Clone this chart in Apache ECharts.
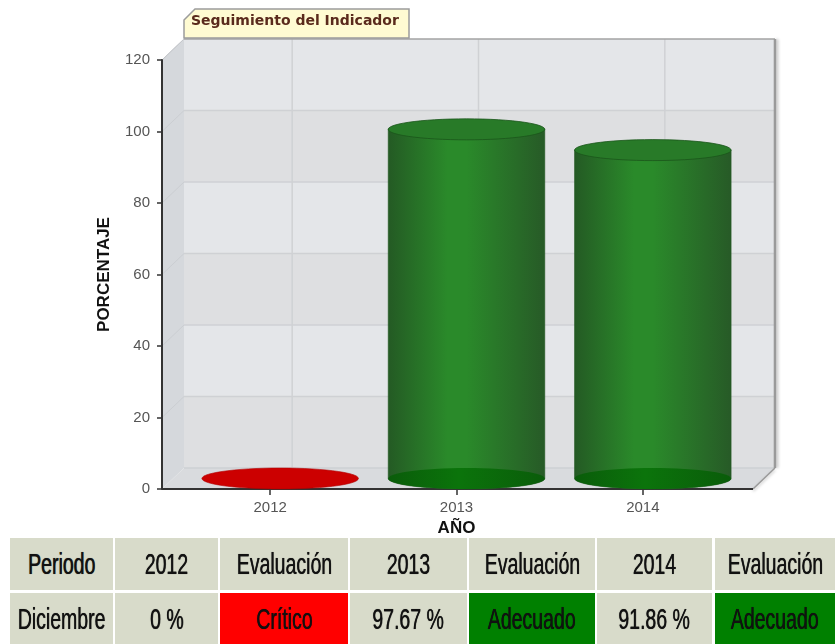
<!DOCTYPE html>
<html>
<head>
<meta charset="utf-8">
<script src="https://cdn.jsdelivr.net/npm/echarts@6/dist/echarts.min.js"></script>
<style>
  html, body { margin: 0; padding: 0; background: #fff; }
  #chart { position: absolute; left: 0; top: 0; width: 835px; height: 644px; }
  .cell { position: absolute; display: flex; align-items: center; justify-content: center;
          font-family: "Liberation Sans", Arial, sans-serif; font-size: 30px; color: #111; overflow: hidden; }
  .cell span { display: inline-block; transform: scaleX(0.65); white-space: nowrap;
               text-shadow: 0 0 1px rgba(0,0,0,0.6), 0.6px 0 0 rgba(0,0,0,0.6); }
</style>
</head>
<body>
<div id="chart"></div>
<div id="tabla"></div>
<script>
// datos del indicador
const anios = ['2012', '2013', '2014'];
const valores = [0, 97.67, 91.86];
const evaluaciones = ['Crítico', 'Adecuado', 'Adecuado'];
const periodo = 'Diciembre';
const ticksY = [0, 20, 40, 60, 80, 100, 120];

const coloresEval = { 'Crítico': '#ff0000', 'Adecuado': '#008000' };

// profundidad del efecto 3D
const DX = 22, DY = -21;

function elipse(cx, cy, rx, ry, n) {
    const pts = [];
    for (let i = 0; i < n; i++) {
        const a = i / n * Math.PI * 2;
        pts.push([cx + rx * Math.cos(a), cy + ry * Math.sin(a)]);
    }
    return pts;
}

const renderPared = (params, api) => {
    const cs = params.coordSys;
    const L = cs.x - 15, R = cs.x + cs.width + 17, T = cs.y, B = cs.y + cs.height;
    const hijos = [];
    // pared lateral
    hijos.push({ type: 'polygon', shape: { points: [[L, T], [L + DX, T + DY], [L + DX, B + DY], [L, B]] },
        style: { fill: '#d5d8dc' } });
    // piso
    hijos.push({ type: 'polygon', shape: { points: [[L, B], [L + DX, B + DY], [R + DX, B + DY], [R, B]] },
        style: { fill: '#d9dbde' } });
    // pared del fondo en bandas
    for (let i = 0; i < ticksY.length - 1; i++) {
        const y0 = api.coord([0, ticksY[i]])[1] + DY;
        const y1 = api.coord([0, ticksY[i + 1]])[1] + DY;
        hijos.push({ type: 'rect', shape: { x: L + DX, y: y1, width: R - L, height: y0 - y1 },
            style: { fill: i % 2 === 0 ? '#dedfe1' : '#e4e6e9' } });
    }
    // lineas de division
    ticksY.forEach((v, i) => {
        const y = api.coord([0, v])[1];
        if (i > 0 && i < ticksY.length - 1) {
            hijos.push({ type: 'line', shape: { x1: L + DX, y1: y + DY, x2: R + DX, y2: y + DY },
                style: { stroke: '#cfd1d4', lineWidth: 1.5 } });
        }
        if (i > 0) {
            hijos.push({ type: 'line', shape: { x1: L, y1: y, x2: L + DX, y2: y + DY },
                style: { stroke: '#cbced2', lineWidth: 1 } });
        }
    });
    hijos.push({ type: 'line', shape: { x1: L + DX, y1: B + DY, x2: R + DX, y2: B + DY },
        style: { stroke: '#cdd0d3', lineWidth: 1.5 } });
    anios.forEach((a, i) => {
        const x = api.coord([i, 0])[0] + DX;
        hijos.push({ type: 'line', shape: { x1: x, y1: T + DY, x2: x, y2: B + DY },
            style: { stroke: '#cfd1d4', lineWidth: 1.5 } });
    });
    // bordes
    hijos.push({ type: 'line', shape: { x1: L + DX, y1: T + DY, x2: R + DX, y2: T + DY },
        style: { stroke: '#a3a3a3', lineWidth: 1.5 } });
    hijos.push({ type: 'line', shape: { x1: R + DX, y1: T + DY, x2: R + DX, y2: B + DY },
        style: { stroke: '#9a9a9a', lineWidth: 2.5, shadowBlur: 3, shadowColor: 'rgba(0,0,0,0.25)', shadowOffsetX: 2 } });
    hijos.push({ type: 'line', shape: { x1: R + DX, y1: B + DY, x2: R, y2: B },
        style: { stroke: '#9a9a9a', lineWidth: 1.5, shadowBlur: 3, shadowColor: 'rgba(0,0,0,0.25)', shadowOffsetY: 2 } });
    hijos.push({ type: 'line', shape: { x1: L, y1: T, x2: L + DX, y2: T + DY },
        style: { stroke: '#c4c6ca', lineWidth: 1 } });
    hijos.push({ type: 'line', shape: { x1: L, y1: B, x2: R, y2: B },
        style: { stroke: '#333', lineWidth: 2 } });
    return { type: 'group', children: hijos };
};

const renderCilindro = (params, api) => {
    const idx = api.value(0);
    const val = api.value(1);
    const color = coloresEval[evaluaciones[idx]];
    const base = api.coord([idx, 0]);
    const tope = api.coord([idx, val]);
    const rx = api.size([1, 0])[0] * 0.42;
    const ry = 10.5;
    const cx = base[0] + DX / 2 - 1;
    const yb = base[1] + DY / 2;
    const yt = tope[1] + DY / 2;
    const hijos = [];
    if (yb - yt > 0.5) {
        const cuerpo = [[cx - rx, yt]];
        for (let i = 0; i <= 40; i++) {
            const a = Math.PI - i / 40 * Math.PI;
            cuerpo.push([cx + rx * Math.cos(a), yb + ry * Math.sin(a)]);
        }
        cuerpo.push([cx + rx, yt]);
        hijos.push({ type: 'polygon', shape: { points: cuerpo },
            style: { fill: new echarts.graphic.LinearGradient(0, 0, 1, 0, [
                { offset: 0, color: '#245a24' }, { offset: 0.38, color: '#2a8a2a' },
                { offset: 0.5, color: '#2a8a2a' }, { offset: 1, color: '#275a27' }]),
                stroke: '#1f561f', lineWidth: 0.6 } });
        hijos.push({ type: 'polygon', shape: { points: elipse(cx, yb, rx, ry, 60) },
            style: { fill: new echarts.graphic.LinearGradient(0, 0, 1, 0, [
                { offset: 0, color: '#0a5c0a' }, { offset: 0.45, color: '#0b740b' }, { offset: 1, color: '#0a5c0a' }]) } });
        hijos.push({ type: 'polygon', shape: { points: elipse(cx, yt, rx, ry, 60) },
            style: { fill: '#287a28', stroke: '#1a551a', lineWidth: 0.8 } });
    } else {
        hijos.push({ type: 'polygon', shape: { points: elipse(cx, yb, rx, ry, 60) },
            style: { fill: color === '#ff0000' ? '#cc0000' : '#287a28', stroke: '#b00000', lineWidth: 0.6 } });
    }
    return { type: 'group', children: hijos };
};

const myChart = echarts.init(document.getElementById('chart'), null, { renderer: 'canvas' });

const option = {
    animation: false,
    grid: { left: 177, right: 99, top: 60, bottom: 155 },
    xAxis: {
        type: 'category',
        data: anios,
        z: 10,
        axisLine: { show: false },
        axisTick: { show: true, alignWithLabel: true, length: 6, lineStyle: { color: '#333', width: 1.5 } },
        axisLabel: { color: '#555', fontSize: 15, fontFamily: 'Liberation Sans', margin: 11 },
        name: 'AÑO',
        nameLocation: 'middle',
        nameGap: 30,
        nameTextStyle: { color: '#111', fontSize: 17, fontWeight: 'bold', fontFamily: 'Liberation Sans' }
    },
    yAxis: {
        type: 'value',
        min: 0,
        max: 120,
        interval: 20,
        offset: 15,
        z: 10,
        axisLine: { show: true, lineStyle: { color: '#333', width: 2 } },
        axisTick: { show: true, length: 5, lineStyle: { color: '#333', width: 1.5 } },
        axisLabel: { color: '#555', fontSize: 15, fontFamily: 'Liberation Sans', margin: 12 },
        splitLine: { show: false },
        name: 'PORCENTAJE',
        nameLocation: 'middle',
        nameRotate: 90,
        nameGap: 49,
        nameTextStyle: { color: '#111', fontSize: 17, fontWeight: 'bold', fontFamily: 'Liberation Sans' }
    },
    graphic: [
        {
            type: 'polygon',
            shape: { points: [[184, 20], [195, 9], [409, 9], [409, 38], [184, 38]] },
            style: { fill: '#fffbd2', stroke: '#9c9c9c', lineWidth: 1.5 },
            z: 20
        },
        {
            type: 'text',
            left: 191,
            top: 14,
            style: { text: 'Seguimiento del Indicador', fill: '#5a2a1c', font: 'bold 14px "DejaVu Sans"' },
            z: 21
        }
    ],
    series: [
        {
            type: 'custom',
            renderItem: renderPared,
            data: [[0, 0]],
            clip: false,
            silent: true,
            z: 1
        },
        {
            type: 'custom',
            renderItem: renderCilindro,
            data: valores.map((v, i) => [i, v]),
            clip: false,
            z: 3
        }
    ]
};

if (option && typeof option === 'object') {
    myChart.setOption(option);
}

// tabla inferior
const columnas = [[10, 113], [115, 218], [220, 348], [350, 467], [469, 595], [597, 712], [715, 835]];
const filaEncabezado = ['Periodo'];
const filaDatos = [periodo];
anios.forEach((a, i) => {
    filaEncabezado.push(a, 'Evaluación');
    filaDatos.push(valores[i] + ' %', evaluaciones[i]);
});

const tabla = document.getElementById('tabla');
const filas = [[filaEncabezado, 538, 52], [filaDatos, 593, 52]];
filas.forEach(([textos, top, alto], f) => {
    textos.forEach((t, c) => {
        const d = document.createElement('div');
        d.className = 'cell';
        d.style.left = columnas[c][0] + 'px';
        d.style.width = (columnas[c][1] - columnas[c][0]) + 'px';
        d.style.top = top + 'px';
        d.style.height = alto + 'px';
        let fondo = '#d8dbca';
        if (f === 1 && c > 0 && c % 2 === 0) fondo = coloresEval[t];
        d.style.background = fondo;
        const s = document.createElement('span');
        s.textContent = t;
        d.appendChild(s);
        tabla.appendChild(d);
    });
});
</script>
</body>
</html>
